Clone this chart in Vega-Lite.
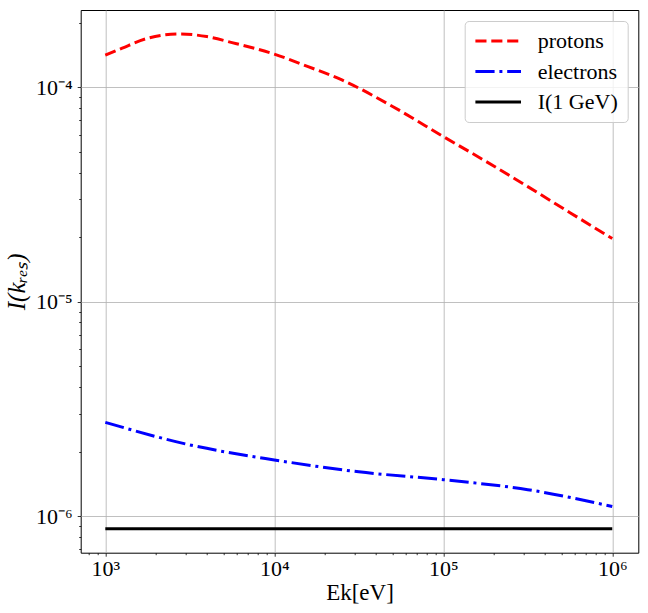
{
  "$schema": "https://vega.github.io/schema/vega-lite/v6.json",
  "autosize": {"type": "none"},
  "padding": {"left": 80.7, "top": 10, "right": 9.7, "bottom": 60.3},
  "width": 557.6,
  "height": 542.7,
  "background": "white",
  "config": {
    "font": "Liberation Serif",
    "view": {"stroke": "black", "strokeWidth": 1},
    "axis": {
      "domain": false,
      "grid": true,
      "gridColor": "#b0b0b0",
      "gridWidth": 0.8,
      "tickColor": "black",
      "tickWidth": 0.8,
      "labelFont": "Liberation Serif",
      "labelFontSize": 22,
      "labelColor": "black",
      "titleFont": "Liberation Serif",
      "titleFontSize": 23,
      "titleFontWeight": "normal",
      "titleColor": "black"
    },
    "legend": {
      "labelFont": "Liberation Serif",
      "labelFontSize": 22,
      "labelColor": "black"
    }
  },
  "data": {
    "values": [
      {"E": 1000, "I": 1.409e-4, "s": "protons"},
      {"E": 1259, "I": 1.521e-4, "s": "protons"},
      {"E": 1778, "I": 1.690e-4, "s": "protons"},
      {"E": 2754, "I": 1.770e-4, "s": "protons"},
      {"E": 3981, "I": 1.722e-4, "s": "protons"},
      {"E": 5623, "I": 1.614e-4, "s": "protons"},
      {"E": 10000, "I": 1.426e-4, "s": "protons"},
      {"E": 15849, "I": 1.247e-4, "s": "protons"},
      {"E": 25119, "I": 1.081e-4, "s": "protons"},
      {"E": 50119, "I": 8.13e-5, "s": "protons"},
      {"E": 100000, "I": 5.89e-5, "s": "protons"},
      {"E": 177828, "I": 4.52e-5, "s": "protons"},
      {"E": 316228, "I": 3.44e-5, "s": "protons"},
      {"E": 562341, "I": 2.60e-5, "s": "protons"},
      {"E": 1000000, "I": 1.97e-5, "s": "protons"},
      {"E": 1000, "I": 2.74e-6, "s": "electrons"},
      {"E": 3162, "I": 2.15e-6, "s": "electrons"},
      {"E": 10000, "I": 1.83e-6, "s": "electrons"},
      {"E": 31623, "I": 1.61e-6, "s": "electrons"},
      {"E": 100000, "I": 1.48e-6, "s": "electrons"},
      {"E": 316228, "I": 1.33e-6, "s": "electrons"},
      {"E": 1000000, "I": 1.11e-6, "s": "electrons"},
      {"E": 1000, "I": 8.73e-7, "s": "I(1 GeV)"},
      {"E": 1000000, "I": 8.73e-7, "s": "I(1 GeV)"}
    ]
  },
  "mark": {"type": "line", "strokeWidth": 3, "interpolate": "monotone", "strokeCap": "butt"},
  "encoding": {
    "x": {
      "field": "E",
      "type": "quantitative",
      "scale": {"type": "log", "domain": [715, 1426000], "nice": false, "zero": false},
      "axis": {
        "title": "Ek[eV]",
        "titlePadding": 2,
        "labelPadding": 2,
        "values": [800, 900, 1000, 2000, 3000, 4000, 5000, 6000, 7000, 8000, 9000, 10000, 20000, 30000, 40000, 50000, 60000, 70000, 80000, 90000, 100000, 200000, 300000, 400000, 500000, 600000, 700000, 800000, 900000, 1000000],
        "labelExpr": "abs(log(datum.value)/LN10 - round(log(datum.value)/LN10)) < 1e-6 ? (round(log(datum.value)/LN10) == 3 ? '10³' : round(log(datum.value)/LN10) == 4 ? '10⁴' : round(log(datum.value)/LN10) == 5 ? '10⁵' : '10⁶') : ''",
        "gridOpacity": {"condition": {"test": "abs(log(datum.value)/LN10 - round(log(datum.value)/LN10)) < 1e-6", "value": 1}, "value": 0},
        "tickSize": {"condition": {"test": "abs(log(datum.value)/LN10 - round(log(datum.value)/LN10)) < 1e-6", "value": 3.5}, "value": 2}
      }
    },
    "y": {
      "field": "I",
      "type": "quantitative",
      "scale": {"type": "log", "domain": [6.76e-7, 2.29e-4], "nice": false, "zero": false},
      "axis": {
        "title": "I(kᵣₑₛ)",
        "titleFontStyle": "italic",
        "titleFontSize": 25,
        "titlePadding": 6,
        "labelPadding": 5,
        "values": [7e-7, 8e-7, 9e-7, 1e-6, 2e-6, 3e-6, 4e-6, 5e-6, 6e-6, 7e-6, 8e-6, 9e-6, 1e-5, 2e-5, 3e-5, 4e-5, 5e-5, 6e-5, 7e-5, 8e-5, 9e-5, 1e-4, 2e-4],
        "labelExpr": "abs(log(datum.value)/LN10 - round(log(datum.value)/LN10)) < 1e-6 ? (round(log(datum.value)/LN10) == -4 ? '10⁻⁴' : round(log(datum.value)/LN10) == -5 ? '10⁻⁵' : '10⁻⁶') : ''",
        "gridOpacity": {"condition": {"test": "abs(log(datum.value)/LN10 - round(log(datum.value)/LN10)) < 1e-6", "value": 1}, "value": 0},
        "tickSize": {"condition": {"test": "abs(log(datum.value)/LN10 - round(log(datum.value)/LN10)) < 1e-6", "value": 3.5}, "value": 2}
      }
    },
    "color": {
      "field": "s",
      "type": "nominal",
      "scale": {"domain": ["protons", "electrons", "I(1 GeV)"], "range": ["#ff0000", "#0000ff", "#000000"]},
      "legend": {
        "title": null,
        "orient": "top-right",
        "offset": 11,
        "symbolType": "stroke",
        "symbolSize": 2080,
        "symbolStrokeWidth": 3,
        "clipHeight": 22,
        "labelFont": "Liberation Serif",
        "labelFontSize": 22,
        "labelOffset": 15,
        "padding": 9,
        "rowPadding": 8.5,
        "fillColor": "rgba(255,255,255,0.8)",
        "strokeColor": "#cccccc",
        "cornerRadius": 4
      }
    },
    "strokeDash": {
      "field": "s",
      "type": "nominal",
      "scale": {"domain": ["protons", "electrons", "I(1 GeV)"], "range": [[11.1, 4.8], [19.2, 4.8, 3, 4.8], [1, 0]]},
      "legend": null
    }
  }
}
